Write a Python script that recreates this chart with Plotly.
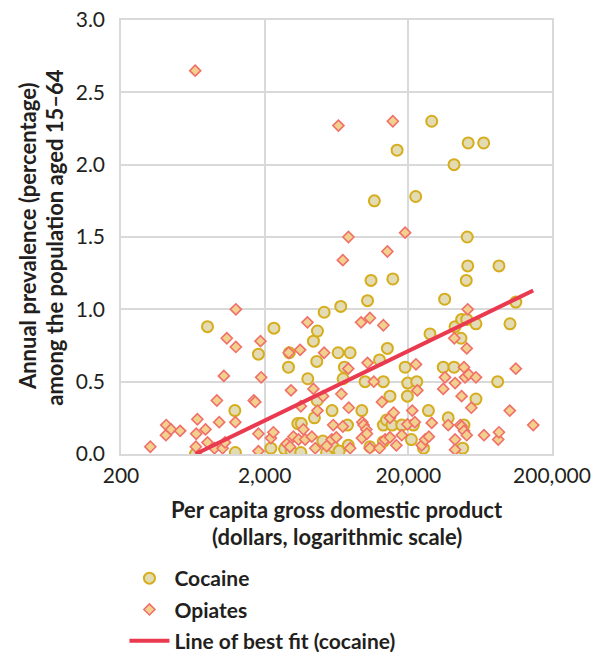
import plotly.graph_objects as go

# Per capita GDP (US dollars) and annual prevalence (% of population aged 15-64)
cocaine_gdp = [660, 800, 1240, 1250, 1810, 2210, 2320, 2750, 2930, 2970, 3060, 3400,
               3600, 3570, 3990, 4370, 4440, 4610, 4640, 4660, 5080, 5190, 5400, 5890,
               6000, 6490, 6600, 6770, 7030, 7180, 7540, 7640, 7870, 9490, 10000, 10400,
               10800, 11000, 11600, 12600, 13400, 13400, 13400, 14100, 14300, 14900,
               15400, 15600, 16700, 18000, 19000, 19700, 19800, 21000, 21700, 22500,
               22900, 25500, 27600, 28300, 29100, 35000, 35800, 37900, 41600, 41600,
               42300, 46500, 47000, 47800, 48800, 50600, 51000, 51400, 51800, 52200,
               59100, 59100, 66900, 83700, 85500, 102000, 112000]
cocaine_prev = [0.00, 0.88, 0.30, 0.01, 0.69, 0.04, 0.87, 0.035, 0.60, 0.70, 0.02, 0.21,
                0.21, 0.01, 0.52, 0.78, 0.25, 0.64, 0.37, 0.85, 0.09, 0.98, 0.01, 0.30,
                0.05, 0.70, 0.02, 1.02, 0.52, 0.60, 0.20, 0.06, 0.70, 0.30, 0.50, 1.06,
                0.05, 1.20, 1.75, 0.65, 0.50, 0.20, 0.085, 0.235, 0.73, 0.40,
                0.20, 1.21, 2.10, 0.20, 0.60, 0.40, 0.49, 0.10, 0.20, 1.78,
                0.50, 0.04, 0.30, 0.83, 2.30, 0.60, 1.07, 0.25, 0.60, 2.00,
                0.88, 0.80, 0.93, 0.04, 0.20, 1.20, 0.93, 1.50, 1.30, 2.15,
                0.90, 0.38, 2.15, 0.50, 1.30, 0.90, 1.05]

opiates_gdp = [320, 411, 413, 446, 516, 657, 664, 668, 680, 775, 800, 895, 930, 965,
               1020, 1040, 1060, 1090, 1250, 1260, 1260, 1680, 1720, 1810, 1810, 1870,
               1890, 2210, 2300, 2850, 2940, 3000, 3050, 3170, 3440, 3530, 3570, 3720,
               3830, 3970, 4260, 4370, 4500, 4660, 5100, 5190, 5400, 5860, 6000, 6300,
               6520, 6840, 7000, 7000, 7640, 7660, 7700, 7870, 9380, 9500, 9570, 9760,
               10200, 10300, 10400, 10800, 10800, 11500, 12600, 13100, 13400, 13800,
               14300, 14900, 14900, 15600, 15800, 16500, 18000, 19000, 19700, 21300,
               22200, 22600, 23100, 24800, 26200, 27800, 29100, 35000, 36000, 37900,
               41800, 42300, 42300, 42300, 46000, 47000, 47000, 48800, 48800, 49600,
               51000, 51000, 51800, 52700, 54900, 59100, 67300, 84500, 85500, 101600,
               112000, 148000]
opiates_prev = [0.05, 0.13, 0.20, 0.17, 0.16, 2.65, 0.05, 0.14, 0.24, 0.17, 0.08, 0.04, 0.37, 0.22,
                0.04, 0.54, 0.08, 0.80, 0.22, 1.00, 0.74, 0.37, 0.36, 0.14, 0.02, 0.78,
                0.53, 0.11, 0.15, 0.07, 0.70, 0.05, 0.44, 0.12, 0.10, 0.72, 0.33, 0.17,
                0.10, 0.91, 0.12, 0.45, 0.04, 0.30, 0.40, 0.70, 0.055, 0.10, 0.20, 0.115,
                2.27, 0.415, 1.34, 0.19, 0.59, 1.50, 0.32, 0.04, 0.91, 0.11, 0.22, 0.20,
                0.17, 0.14, 0.63, 0.94, 0.04, 0.50, 0.04, 0.36, 0.89, 0.10,
                1.40, 0.25, 0.115, 2.30, 0.285, 0.06, 0.13, 1.53, 0.205, 0.30,
                0.22, 0.62, 0.44, 0.06, 0.10, 0.12, 0.215, 0.45, 0.53, 0.20,
                0.80, 0.49, 0.10, 0.03, 0.20, 0.40, 0.19, 0.60, 0.16, 0.53,
                0.73, 0.13, 1.00, 0.55, 0.32, 0.53, 0.13, 0.10, 0.15, 0.30,
                0.59, 0.20]

# End points of the fitted cocaine trend line
fit_gdp = [660, 148000]
fit_prev = [0.0, 1.13]

x_ticks = [200, 2000, 20000, 200000]
x_tick_labels = ["200", "2,000", "20,000", "200,000"]

FONT = "Lato"
TEXT = "#231f20"
GRID = "#d9d9d9"

fig = go.Figure()
fig.add_trace(go.Scatter(
    x=cocaine_gdp, y=cocaine_prev, mode="markers", name="Cocaine", legendgroup="a",
    marker=dict(symbol="circle", size=11, color="#e3dbb3",
                line=dict(color="#d6ad1c", width=2)),
))
fig.add_trace(go.Scatter(
    x=opiates_gdp, y=opiates_prev, mode="markers", name="Opiates", legendgroup="b",
    marker=dict(symbol="diamond", size=8.5, color="#f2d08e",
                line=dict(color="#f07069", width=1.6)),
))
fig.add_trace(go.Scatter(
    x=fit_gdp, y=fit_prev, mode="lines", name="Line of best fit (cocaine)",
    legendgroup="c", line=dict(color="#ea3a50", width=4),
))

axis_common = dict(showgrid=True, gridcolor=GRID, gridwidth=1.5, showline=True,
                   linecolor=GRID, linewidth=1.5, mirror=True, zeroline=False,
                   ticks="", automargin=False, tickangle=0,
                   tickfont=dict(family=FONT, size=21, color=TEXT))
fig.update_xaxes(type="log", range=[2.30103, 5.30103], tickvals=x_ticks,
                 ticktext=x_tick_labels, ticklabelstandoff=2, **axis_common)
fig.update_yaxes(range=[0, 3.0], dtick=0.5, tickformat=".1f",
                 ticklabelstandoff=10, **axis_common)

title_font = dict(family=FONT, size=22, color=TEXT, weight="bold")
annotations = []
for i, line in enumerate(["Per capita gross domestic product",
                          "(dollars, logarithmic scale)"]):
    annotations.append(dict(text=line, xref="paper", yref="paper", x=0.5,
                            y=-0.129 - i * 0.062, xanchor="center", yanchor="middle",
                            showarrow=False, font=title_font))
for i, line in enumerate(["Annual prevalence (percentage)",
                          "among the population aged 15\u201364"]):
    annotations.append(dict(text=line, xref="paper", yref="paper",
                            x=-0.218 + i * 0.062, y=0.5, xanchor="center",
                            yanchor="middle", textangle=-90, showarrow=False,
                            font=title_font))

fig.update_layout(
    width=602, height=654,
    margin=dict(l=121, r=50, t=20, b=200),
    plot_bgcolor="white", paper_bgcolor="white",
    annotations=annotations,
    legend=dict(orientation="v", xref="paper", yref="container",
                x=0.008, y=1 - 558 / 654, xanchor="left", yanchor="top",
                font=dict(family=FONT, size=21, color=TEXT, weight="bold"),
                traceorder="grouped", tracegroupgap=1, itemwidth=40),
    showlegend=True,
)

fig.write_html("out.html")
